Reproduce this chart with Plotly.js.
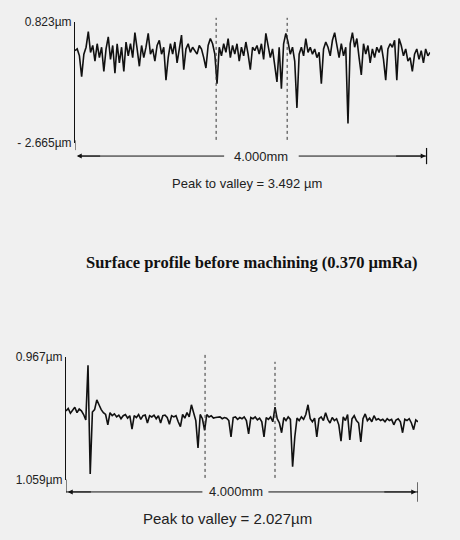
<!DOCTYPE html>
<html>
<head>
<meta charset="utf-8">
<script src="https://cdn.plot.ly/plotly-3.0.1.min.js"></script>
<style>
html,body{margin:0;padding:0;background:#f0f0f0;}
#chart{width:460px;height:540px;}
</style>
</head>
<body>
<div id="chart"></div>
<script>
// Surface profile before machining (µm), sampled every 0.025 mm over 4.000 mm
const topProfile = [
 0.00, 0.05,-0.15,-0.75,-0.10, 0.10, 0.55,-0.05, 0.15,-0.30,
 0.20,-0.20, 0.10,-0.60, 0.05, 0.40,-0.25, 0.15,-0.65, 0.20,
-0.35, 0.10,-0.60, 0.25,-0.15, 0.20,-0.20, 0.52, 0.05,-0.45,
 0.15,-0.20, 0.10, 0.50,-0.10, 0.05,-0.30, 0.15, 0.30,-0.10,
 0.10,-0.85,-0.20, 0.20,-0.10, 0.25,-0.35, 0.10, 0.45,-0.55,
 0.05, 0.20,-0.05, 0.10, 0.00,-0.10, 0.15, 0.05,-0.20,-0.50,
 0.15, 0.35, 0.20,-0.10,-0.95, 0.10,-0.15, 0.20,-0.05, 0.35,
-0.20, 0.15,-0.10, 0.20,-0.30, 0.10,-0.15, 0.25,-0.10,-0.55,
 0.10, 0.00, 0.15,-0.10, 0.20,-0.25, 0.50, 0.10,-0.20, 0.05,
-0.40,-0.90, 0.10,-1.10, 0.20, 0.50, 0.25,-0.10, 0.10,-0.30,
-1.65,-0.10, 0.10,-0.15, 0.35,-0.05, 0.10,-0.10, 0.05,-0.20,
-0.05,-0.95, 0.05, 0.25, 0.10,-0.15, 0.30, 0.52, 0.15,-0.20,
 0.20,-0.15, 0.10,-2.10, 0.20, 0.52, 0.10, 0.35,-0.20,-0.70,
 0.20,-0.10, 0.15,-0.35, 0.05,-0.20, 0.10,-0.05, 0.15,-0.25,
-0.85, 0.05, 0.20, 0.10, 0.30,-0.85, 0.35, 0.15,-0.15, 0.05,
-0.30,-0.20,-0.60,-0.10, 0.05,-0.25, 0.00,-0.35, 0.05,-0.15,
-0.05
];
// Surface profile after machining (µm), sampled every 0.025 mm over 4.000 mm
const bottomProfile = [
 0.08, 0.12, 0.04, 0.10, 0.14, 0.05, 0.11, 0.08, 0.02,-0.07,
 0.83,-0.96, 0.06, 0.10, 0.26, 0.18, 0.10, 0.05, 0.02,-0.15,
 0.05, 0.00, 0.03,-0.02, 0.01,-0.05, 0.00, 0.02,-0.04, 0.00,
-0.22, 0.00,-0.03, 0.02,-0.06, 0.00, 0.01,-0.12, 0.00,-0.02,
 0.01,-0.05, 0.00,-0.12, 0.00, 0.01,-0.03,-0.14, 0.00,-0.02,
 0.00,-0.10,-0.18, 0.02,-0.04, 0.05,-0.02, 0.18, 0.03,-0.08,
-0.53, 0.02,-0.05,-0.24, 0.02,-0.02, 0.00,-0.04,-0.03,-0.03,
-0.02,-0.05,-0.03,-0.04,-0.08,-0.35,-0.03,-0.02,-0.06,-0.03,
-0.05,-0.02,-0.08,-0.30,-0.03,-0.05,-0.02,-0.07,-0.04,-0.10,
-0.35,-0.03,-0.06,-0.02,-0.10, 0.14,-0.05,-0.12,-0.28,-0.03,
-0.08,-0.02,-0.06,-0.84,-0.35,-0.04,-0.08,-0.02,-0.06, 0.02,
 0.18,-0.05,-0.10,-0.04,-0.35,-0.05,-0.02,-0.08, 0.05,-0.06,
-0.12,-0.03,-0.08,-0.05,-0.15,-0.42,-0.02,-0.08, 0.02,-0.40,
-0.05, 0.00,-0.08,-0.12,-0.43,-0.05, 0.03,-0.08,-0.04,-0.10,
 0.00,-0.07,-0.05,-0.08,-0.06,-0.10,-0.05,-0.08,-0.06,-0.15,
-0.07,-0.05,-0.10,-0.28,-0.06,-0.08,-0.05,-0.12,-0.23,-0.07,
-0.10
];
const sampleStep = 0.025;            // mm
const traverseLength = 4.0;          // mm
const topLimits = [-2.665, 0.823];   // µm
const bottomLimits = [-1.059, 0.967];// µm
const topTickText = ["- 2.665µm", "0.823µm"];
const bottomTickText = ["1.059µm", "0.967µm"];
const topMarks = [1.59, 2.39];       // mm (dashed markers)
const bottomMarks = [1.58, 2.375];   // mm
const lengthLabel = "4.000mm";
const topPV = "Peak to valley = 3.492 µm";
const bottomPV = "Peak to valley = 2.027µm";
const captionText = "Surface profile before machining (0.370 µmRa)";

const ink = "#111";
const fam = "Liberation Sans, Arial, sans-serif";
const lab = {family: fam, size: 12, color: "#222"};

const traces = [
  {type: "scatter", mode: "lines", x0: 0, dx: sampleStep, y: topProfile,
   xaxis: "x", yaxis: "y", line: {color: ink, width: 1.6}, hoverinfo: "skip"},
  {type: "scatter", mode: "lines", x0: 0, dx: sampleStep, y: bottomProfile,
   xaxis: "x2", yaxis: "y2", line: {color: ink, width: 1.6}, hoverinfo: "skip"}
];

const hiddenX = {range: [0, traverseLength], showgrid: false, zeroline: false,
  showline: false, showticklabels: false, ticks: "", fixedrange: true};

const shapes = [];
topMarks.forEach(m => shapes.push({type: "line", xref: "x", yref: "paper",
  x0: m, x1: m, y0: 0.741, y1: 0.967, line: {color: "#333", width: 1, dash: "dot"}}));
bottomMarks.forEach((m, i) => shapes.push({type: "line", xref: "x2", yref: "paper",
  x0: m, x1: m, y0: 0.115, y1: i === 0 ? 0.345 : 0.330, line: {color: "#333", width: 1, dash: "dot"}}));
// axis extensions down to the length arrows
shapes.push({type: "line", xref: "x", yref: "paper", x0: 0, x1: 0, y0: 0.722, y1: 0.74, line: {color: ink, width: 1}});
shapes.push({type: "line", xref: "x2", yref: "paper", x0: 0, x1: 0, y0: 0.088, y1: 0.112, line: {color: ink, width: 1}});
// arrow lines and end bars
shapes.push({type: "line", xref: "x", yref: "paper", x0: 0.05, x1: 1.68, y0: 0.711, y1: 0.711, line: {color: ink, width: 1}});
shapes.push({type: "line", xref: "x", yref: "paper", x0: 2.52, x1: 3.96, y0: 0.711, y1: 0.711, line: {color: ink, width: 1}});
shapes.push({type: "line", xref: "x", yref: "paper", x0: 3.96, x1: 3.96, y0: 0.696, y1: 0.726, line: {color: ink, width: 1.2}});
shapes.push({type: "line", xref: "x2", yref: "paper", x0: 0.0, x1: 1.55, y0: 0.089, y1: 0.089, line: {color: ink, width: 1}});
shapes.push({type: "line", xref: "x2", yref: "paper", x0: 2.30, x1: 4.0, y0: 0.089, y1: 0.089, line: {color: ink, width: 1}});
shapes.push({type: "line", xref: "x2", yref: "paper", x0: 4.0, x1: 4.0, y0: 0.071, y1: 0.107, line: {color: ink, width: 1.2}});

const annotations = [
  // arrowheads
  {xref: "x", yref: "paper", x: 0.02, y: 0.711, axref: "x", ax: 0.3, ayref: "pixel", ay: 0,
   text: "", showarrow: true, arrowhead: 2, arrowsize: 1, arrowwidth: 1, arrowcolor: ink},
  {xref: "x", yref: "paper", x: 3.95, y: 0.711, axref: "x", ax: 3.6, ayref: "pixel", ay: 0,
   text: "", showarrow: true, arrowhead: 2, arrowsize: 1, arrowwidth: 1, arrowcolor: ink},
  {xref: "x2", yref: "paper", x: 0.02, y: 0.089, axref: "x2", ax: 0.3, ayref: "pixel", ay: 0,
   text: "", showarrow: true, arrowhead: 2, arrowsize: 1, arrowwidth: 1, arrowcolor: ink},
  {xref: "x2", yref: "paper", x: 3.98, y: 0.089, axref: "x2", ax: 3.6, ayref: "pixel", ay: 0,
   text: "", showarrow: true, arrowhead: 2, arrowsize: 1, arrowwidth: 1, arrowcolor: ink},
  // length labels
  {xref: "x", yref: "paper", x: 2.10, y: 0.711, yanchor: "middle", text: lengthLabel, showarrow: false,
   font: {family: fam, size: 13, color: "#222"}},
  {xref: "x2", yref: "paper", x: 1.93, y: 0.089, yanchor: "middle", text: lengthLabel, showarrow: false,
   font: {family: fam, size: 13, color: "#222"}},
  // peak to valley
  {xref: "paper", yref: "paper", x: 0.537, y: 0.661, yanchor: "middle", text: topPV, showarrow: false,
   font: {family: fam, size: 13, color: "#222"}},
  {xref: "paper", yref: "paper", x: 0.494, y: 0.039, yanchor: "middle", text: bottomPV, showarrow: false,
   font: {family: fam, size: 15, color: "#222"}},
  // caption
  {xref: "paper", yref: "paper", x: 0.548, y: 0.513, yanchor: "middle", text: "<b>" + captionText + "</b>", showarrow: false,
   font: {family: "Liberation Serif, Times New Roman, serif", size: 16.5, color: "#111"}}
];

const layout = {
  width: 460, height: 540,
  margin: {l: 0, r: 0, t: 0, b: 0},
  paper_bgcolor: "#f0f0f0", plot_bgcolor: "rgba(0,0,0,0)",
  showlegend: false,
  xaxis: Object.assign({}, hiddenX, {domain: [0.163, 0.935], anchor: "y"}),
  yaxis: {domain: [0.735, 0.959], range: topLimits, anchor: "x",
    tickvals: topLimits, ticktext: topTickText, ticks: "inside", ticklen: 5, tickcolor: ink,
    showline: true, linecolor: ink, linewidth: 1, showgrid: false, zeroline: false,
    tickfont: lab, fixedrange: true},
  xaxis2: Object.assign({}, hiddenX, {domain: [0.1435, 0.9087], anchor: "y2"}),
  yaxis2: {domain: [0.111, 0.339], range: bottomLimits, anchor: "x2",
    tickvals: bottomLimits, ticktext: bottomTickText, ticks: "inside", ticklen: 5, tickcolor: ink,
    showline: true, linecolor: ink, linewidth: 1, showgrid: false, zeroline: false,
    tickfont: lab, fixedrange: true},
  shapes: shapes,
  annotations: annotations
};

Plotly.newPlot("chart", traces, layout, {displayModeBar: false, staticPlot: true});
</script>
</body>
</html>
